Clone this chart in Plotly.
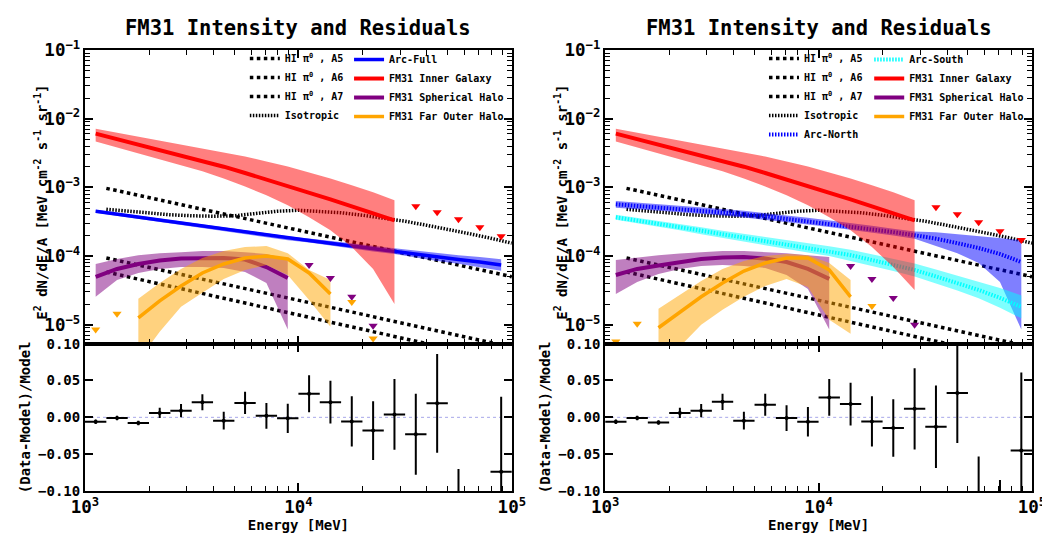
import plotly.graph_objects as go

FONT = "DejaVu Sans Mono"

# ---------------- data ----------------
# energy bin centres [MeV] (fitted components, upper limits, residuals)
energy_bins = [1122, 1413, 1778, 2239, 2818, 3548, 4467, 5623, 7079, 8913,
               11220, 14125, 17783, 22387, 28184, 35481, 44668, 56234, 70795, 89125]
# energy grid [MeV] for HI / isotropic templates
energy_tmpl = [1259, 1585, 1995, 2512, 3162, 3981, 5012, 6310, 7943, 10000,
               12589, 15849, 19953, 25119, 31623, 39811, 50119, 63096, 79433, 100000]

hi_a5 = [9.68e-4, 8.28e-4, 7.08e-4, 6.05e-4, 5.18e-4, 4.43e-4, 3.79e-4, 3.24e-4, 2.77e-4, 2.37e-4,
         2.03e-4, 1.73e-4, 1.48e-4, 1.27e-4, 1.08e-4, 9.3e-5, 7.9e-5, 6.8e-5, 5.8e-5, 5.0e-5]
hi_a6 = [9.35e-5, 8.0e-5, 6.83e-5, 5.83e-5, 4.98e-5, 4.26e-5, 3.64e-5, 3.11e-5, 2.66e-5, 2.27e-5,
         1.94e-5, 1.66e-5, 1.42e-5, 1.21e-5, 1.03e-5, 8.85e-6, 7.56e-6, 6.46e-6, 5.52e-6, 4.71e-6]
hi_a7 = [5.86e-5, 4.99e-5, 4.25e-5, 3.62e-5, 3.08e-5, 2.62e-5, 2.23e-5, 1.90e-5, 1.62e-5, 1.38e-5,
         1.17e-5, 1.0e-5, 8.5e-6, 7.2e-6, 6.2e-6, 5.3e-6, 4.5e-6, 3.8e-6, 3.2e-6, 2.8e-6]
isotropic = [4.80e-4, 4.49e-4, 4.20e-4, 3.99e-4, 3.86e-4, 3.80e-4, 3.86e-4, 4.20e-4, 4.49e-4, 4.64e-4,
             4.49e-4, 4.27e-4, 3.93e-4, 3.55e-4, 3.21e-4, 2.81e-4, 2.46e-4, 2.12e-4, 1.82e-4, 1.54e-4]

# ---- left panel (Arc-Full model) ----
arc_full = [4.49e-4, 4.06e-4, 3.67e-4, 3.32e-4, 3.01e-4, 2.72e-4, 2.46e-4, 2.23e-4, 2.01e-4, 1.82e-4,
            1.68e-4, 1.54e-4, 1.40e-4, 1.28e-4, 1.18e-4, 1.07e-4, 9.7e-5, 8.9e-5, 8.2e-5, 7.4e-5]
arc_full_hi = [4.72e-4, 4.27e-4, 3.86e-4, 3.49e-4, 3.16e-4, 2.86e-4, 2.59e-4, 2.34e-4, 2.15e-4, 1.95e-4,
               1.80e-4, 1.67e-4, 1.52e-4, 1.41e-4, 1.30e-4, 1.20e-4, 1.11e-4, 1.03e-4, 9.7e-5, 9.0e-5]
arc_full_lo = [4.27e-4, 3.86e-4, 3.49e-4, 3.16e-4, 2.86e-4, 2.59e-4, 2.34e-4, 2.12e-4, 1.88e-4, 1.70e-4,
               1.57e-4, 1.42e-4, 1.29e-4, 1.16e-4, 1.07e-4, 9.5e-5, 8.5e-5, 7.7e-5, 6.9e-5, 6.1e-5]

inner_L = [6.07e-3, 5.07e-3, 4.24e-3, 3.52e-3, 2.92e-3, 2.42e-3, 2.00e-3, 1.62e-3, 1.31e-3, 1.05e-3,
           8.4e-4, 6.7e-4, 5.3e-4, 4.2e-4, 3.3e-4]
inner_L_hi = [7.16e-3, 6.26e-3, 5.48e-3, 4.80e-3, 4.20e-3, 3.67e-3, 3.21e-3, 2.81e-3, 2.38e-3, 2.01e-3,
              1.65e-3, 1.35e-3, 1.07e-3, 8.47e-4, 6.48e-4]
inner_L_lo = [4.64e-3, 3.80e-3, 3.11e-3, 2.55e-3, 2.08e-3, 1.71e-3, 1.35e-3, 1.03e-3, 7.65e-4, 5.48e-4,
              3.67e-4, 2.38e-4, 1.35e-4, 6.49e-5, 2.01e-5]

sph_L = [4.96e-5, 6.49e-5, 7.66e-5, 8.61e-5, 9.2e-5, 9.35e-5, 9.35e-5, 8.9e-5, 6.93e-5, 4.8e-5]
sph_L_hi = [7.66e-5, 9.06e-5, 1.03e-4, 1.10e-4, 1.14e-4, 1.18e-4, 1.18e-4, 1.14e-4, 1.07e-4, 9.06e-5]
sph_L_lo = [2.55e-5, 4.49e-5, 5.67e-5, 6.49e-5, 6.93e-5, 6.93e-5, 6.7e-5, 5.86e-5, 4.06e-5, 8.5e-6]

far_L = [1.26e-5, 2.23e-5, 3.67e-5, 5.67e-5, 7.66e-5, 9.35e-5, 1.0e-4, 9.06e-5, 5.67e-5, 2.81e-5]
far_L_hi = [2.38e-5, 4.06e-5, 6.49e-5, 9.35e-5, 1.18e-4, 1.35e-4, 1.40e-4, 1.10e-4, 6.27e-5, 4.49e-5]
far_L_lo = [3.0e-6, 7.9e-6, 1.82e-5, 2.91e-5, 4.65e-5, 6.27e-5, 7.41e-5, 5.3e-5, 2.30e-5, 9.35e-6]

ul_inner_L = [5.3e-4, 4.34e-4, 3.44e-4, 2.63e-4, 1.95e-4]        # bins 15-19
ul_sph_L = [7.4e-5, 4.8e-5, 2.55e-5, 9.7e-6]                       # bins 10-13
ul_far_L_bins = [0, 1, 12, 13]
ul_far_L = [8.5e-6, 1.44e-5, 2.15e-5, 6.3e-6]

res_L = [-0.006, -0.001, -0.0077, 0.006, 0.009, 0.0205, -0.0045, 0.0196, 0.002, -0.0014,
         0.032, 0.0205, -0.0055, -0.018, 0.004, -0.023, 0.019, -0.14, -0.22, -0.074]
res_L_err = [0.003, 0.003, 0.003, 0.007, 0.009, 0.011, 0.012, 0.015, 0.0175, 0.02,
             0.025, 0.029, 0.034, 0.04, 0.048, 0.055, 0.067, 0.07, 0.06, 0.102]

# ---- right panel (Arc-North + Arc-South model) ----
arc_north = [5.67e-4, 5.39e-4, 5.13e-4, 4.88e-4, 4.64e-4, 4.34e-4, 4.06e-4, 3.80e-4, 3.49e-4, 3.21e-4,
             2.96e-4, 2.72e-4, 2.46e-4, 2.23e-4, 2.01e-4, 1.79e-4, 1.54e-4, 1.31e-4, 1.07e-4, 8.18e-5]
arc_north_hi = [6.35e-4, 6.04e-4, 5.75e-4, 5.47e-4, 5.2e-4, 4.86e-4, 4.55e-4, 4.26e-4, 3.91e-4, 3.6e-4,
                3.32e-4, 3.05e-4, 2.76e-4, 2.5e-4, 2.27e-4, 2.23e-4, 2.08e-4, 1.95e-4, 1.82e-4, 1.71e-4]
arc_north_lo = [5.06e-4, 4.81e-4, 4.58e-4, 4.36e-4, 4.14e-4, 3.88e-4, 3.63e-4, 3.39e-4, 3.12e-4, 2.87e-4,
                2.64e-4, 2.43e-4, 2.2e-4, 1.99e-4, 1.78e-4, 1.40e-4, 1.10e-4, 7.9e-5, 4.2e-5, 8.5e-6]

arc_south = [3.67e-4, 3.32e-4, 2.96e-4, 2.63e-4, 2.34e-4, 2.08e-4, 1.85e-4, 1.65e-4, 1.47e-4, 1.33e-4,
             1.18e-4, 1.03e-4, 8.75e-5, 7.41e-5, 6.27e-5, 5.05e-5, 4.06e-5, 3.21e-5, 2.46e-5, 1.82e-5]
arc_south_hi = [3.99e-4, 3.61e-4, 3.27e-4, 2.91e-4, 2.63e-4, 2.34e-4, 2.11e-4, 1.92e-4, 1.71e-4, 1.57e-4,
                1.39e-4, 1.24e-4, 1.07e-4, 9.06e-5, 7.79e-5, 6.38e-5, 5.22e-5, 4.26e-5, 3.43e-5, 2.67e-5]
arc_south_lo = [3.38e-4, 3.05e-4, 2.68e-4, 2.38e-4, 2.08e-4, 1.85e-4, 1.62e-4, 1.42e-4, 1.27e-4, 1.125e-4,
                9.98e-5, 8.57e-5, 7.16e-5, 6.06e-5, 5.04e-5, 4.0e-5, 3.16e-5, 2.42e-5, 1.76e-5, 1.24e-5]

inner_R = inner_L
inner_R_hi = inner_L_hi
inner_R_lo = [4.64e-3, 3.80e-3, 3.11e-3, 2.55e-3, 2.08e-3, 1.71e-3, 1.35e-3, 1.03e-3, 7.65e-4, 5.48e-4,
              3.67e-4, 2.38e-4, 1.35e-4, 6.93e-5, 3.21e-5]

sph_R = [5.3e-5, 6.49e-5, 7.28e-5, 8.18e-5, 9.06e-5, 9.5e-5, 9.7e-5, 9.2e-5, 8.18e-5, 6.49e-5, 4.65e-5]
sph_R_hi = [8.75e-5, 9.5e-5, 1.03e-4, 1.09e-4, 1.14e-4, 1.18e-4, 1.18e-4, 1.14e-4, 1.10e-4, 1.03e-4, 9.7e-5]
sph_R_lo = [2.81e-5, 4.2e-5, 5.48e-5, 6.49e-5, 7.17e-5, 7.41e-5, 7.17e-5, 6.7e-5, 5.3e-5, 3.32e-5, 8.5e-6]

far_R = [9.05e-6, 1.54e-5, 2.55e-5, 4.06e-5, 6.06e-5, 7.92e-5, 9.35e-5, 9.35e-5, 6.27e-5, 2.55e-5]
far_R_hi = [1.71e-5, 2.72e-5, 4.34e-5, 6.49e-5, 8.47e-5, 1.0e-4, 1.07e-4, 1.03e-4, 7.92e-5, 4.49e-5]
far_R_lo = [2.5e-6, 4.8e-6, 1.0e-5, 1.65e-5, 2.55e-5, 3.67e-5, 4.65e-5, 3.55e-5, 1.18e-5, 7.4e-6]

ul_inner_R = [5.13e-4, 4.06e-4, 3.11e-4, 2.3e-4, 1.71e-4]        # bins 15-19
ul_sph_R = [7.17e-5, 4.65e-5, 2.46e-5, 1.0e-5]                    # bins 11-14
ul_far_R_bins = [0, 1, 12]
ul_far_R = [5.7e-6, 1.03e-5, 1.88e-5]

res_R = [-0.006, -0.001, -0.007, 0.006, 0.009, 0.021, -0.0045, 0.017, -0.001, -0.006,
         0.027, 0.018, -0.0055, -0.0145, 0.0115, -0.0127, 0.033, -0.12, -0.15, -0.045]
res_R_err = [0.003, 0.003, 0.003, 0.007, 0.009, 0.011, 0.012, 0.015, 0.0175, 0.02,
             0.025, 0.029, 0.034, 0.039, 0.055, 0.056, 0.068, 0.067, 0.065, 0.106]

# ---------------- styles ----------------
RED, BLUE, PURPLE, ORANGE, CYAN = "#ff0000", "#0000ff", "#800080", "#ffa500", "#00ffff"
def rgba(h, a):
    h = h.lstrip("#")
    return "rgba(%d,%d,%d,%s)" % (int(h[0:2], 16), int(h[2:4], 16), int(h[4:6], 16), a)

HI_DASH = "3.5px,3.5px"
ISO_DASH = "1.5px,1.5px"
ARC_DASH = "1.5px,1.5px"

fig = go.Figure()

def band(x, lo, hi, color, xa, ya):
    fig.add_trace(go.Scatter(x=list(x) + list(x)[::-1], y=list(hi) + list(lo)[::-1],
                             fill="toself", fillcolor=rgba(color, 0.5), mode="lines",
                             line=dict(width=0), hoverinfo="skip", showlegend=False,
                             xaxis=xa, yaxis=ya))

def line(x, y, name, color, width, dash, xa, ya, legend):
    fig.add_trace(go.Scatter(x=x, y=y, name=name, mode="lines",
                             line=dict(color=color, width=width, dash=dash),
                             xaxis=xa, yaxis=ya, legend=legend))

def limits(x, y, color, xa, ya):
    fig.add_trace(go.Scatter(x=x, y=y, mode="markers", showlegend=False,
                             marker=dict(symbol="triangle-down", size=8, color=color),
                             xaxis=xa, yaxis=ya))

def residuals(res, err, xa, ya):
    ex_p = [e * (10 ** 0.05 - 1) for e in energy_bins]
    ex_m = [e * (1 - 10 ** -0.05) for e in energy_bins]
    fig.add_trace(go.Scatter(x=energy_bins, y=res, mode="markers", showlegend=False,
                             marker=dict(color="black", size=4),
                             error_y=dict(type="data", array=err, color="black", thickness=2, width=0),
                             error_x=dict(type="data", array=ex_p, arrayminus=ex_m, symmetric=False,
                                          color="black", thickness=2, width=0),
                             xaxis=xa, yaxis=ya))

HI_NAMES = ["HI π<sup>0</sup> , A5", "HI π<sup>0</sup> , A6", "HI π<sup>0</sup> , A7"]

# ----- left panel -----
for vals, nm in zip([hi_a5, hi_a6, hi_a7], HI_NAMES):
    line(energy_tmpl, vals, nm, "black", 3.5, HI_DASH, "x", "y", "legend")
line(energy_tmpl, isotropic, "Isotropic", "black", 3.5, ISO_DASH, "x", "y", "legend")
band(energy_bins, arc_full_lo, arc_full_hi, BLUE, "x", "y")
line(energy_bins, arc_full, "Arc-Full", BLUE, 3.5, "solid", "x", "y", "legend2")
band(energy_bins[:15], inner_L_lo, inner_L_hi, RED, "x", "y")
line(energy_bins[:15], inner_L, "FM31 Inner Galaxy", RED, 4, "solid", "x", "y", "legend2")
band(energy_bins[:10], sph_L_lo, sph_L_hi, PURPLE, "x", "y")
line(energy_bins[:10], sph_L, "FM31 Spherical Halo", PURPLE, 4, "solid", "x", "y", "legend2")
band(energy_bins[2:12], far_L_lo, far_L_hi, ORANGE, "x", "y")
line(energy_bins[2:12], far_L, "FM31 Far Outer Halo", ORANGE, 3.5, "solid", "x", "y", "legend2")
limits(energy_bins[15:20], ul_inner_L, RED, "x", "y")
limits(energy_bins[10:14], ul_sph_L, PURPLE, "x", "y")
limits([energy_bins[i] for i in ul_far_L_bins], ul_far_L, ORANGE, "x", "y")
residuals(res_L, res_L_err, "x2", "y2")

# ----- right panel -----
for vals, nm in zip([hi_a5, hi_a6, hi_a7], HI_NAMES):
    line(energy_tmpl, vals, nm, "black", 3.5, HI_DASH, "x3", "y3", "legend3")
line(energy_tmpl, isotropic, "Isotropic", "black", 3.5, ISO_DASH, "x3", "y3", "legend3")
band(energy_bins, arc_north_lo, arc_north_hi, BLUE, "x3", "y3")
line(energy_bins, arc_north, "Arc-North", BLUE, 4, ARC_DASH, "x3", "y3", "legend3")
band(energy_bins, arc_south_lo, arc_south_hi, CYAN, "x3", "y3")
line(energy_bins, arc_south, "Arc-South", CYAN, 4, ARC_DASH, "x3", "y3", "legend4")
band(energy_bins[:15], inner_R_lo, inner_R_hi, RED, "x3", "y3")
line(energy_bins[:15], inner_R, "FM31 Inner Galaxy", RED, 4, "solid", "x3", "y3", "legend4")
band(energy_bins[:11], sph_R_lo, sph_R_hi, PURPLE, "x3", "y3")
line(energy_bins[:11], sph_R, "FM31 Spherical Halo", PURPLE, 4, "solid", "x3", "y3", "legend4")
band(energy_bins[2:12], far_R_lo, far_R_hi, ORANGE, "x3", "y3")
line(energy_bins[2:12], far_R, "FM31 Far Outer Halo", ORANGE, 3.5, "solid", "x3", "y3", "legend4")
limits(energy_bins[15:20], ul_inner_R, RED, "x3", "y3")
limits(energy_bins[11:15], ul_sph_R, PURPLE, "x3", "y3")
limits([energy_bins[i] for i in ul_far_R_bins], ul_far_R, ORANGE, "x3", "y3")
residuals(res_R, res_R_err, "x4", "y4")

# ---------------- layout ----------------
W, H = 1050, 535
ML, MR, MT, MB = 77, 19, 42, 50
pw = W - ML - MR
ph = H - MT - MB
colL = [0, 430 / pw]
colR = [1 - 430 / pw, 1]
split = 148 / ph

bold = dict(family=FONT, size=14, color="black", weight="bold")
minor_log = dict(ticks="inside", ticklen=5, tickwidth=1.2, tickcolor="black",
                 dtick="D1", showgrid=False)

axis_common = dict(showline=True, linecolor="black", linewidth=2, mirror="allticks",
                   ticks="inside", ticklen=8, tickwidth=1.5, tickcolor="black",
                   showgrid=False, zeroline=False, tickfont=bold)

def xlog(domain, anchor, labels):
    d = dict(axis_common, type="log", range=[3, 5], domain=domain, anchor=anchor,
             tickmode="linear", tick0=0, dtick=1, exponentformat="power", showexponent="all",
             showticklabels=labels, minor=minor_log)
    if labels:
        d["title"] = dict(text="Energy [MeV]", standoff=4, font=bold)
    return d

def ytop(domain, anchor):
    return dict(axis_common, type="log", range=[-5.2757, -1], domain=domain, anchor=anchor,
                tickmode="linear", tick0=0, dtick=1, exponentformat="power", showexponent="all",
                minor=minor_log)

def ybot(domain, anchor):
    return dict(axis_common, range=[-0.1, 0.1], domain=domain, anchor=anchor,
                tickmode="array", tickvals=[-0.1, -0.05, 0, 0.05, 0.1], tickformat=".2f",
                title=dict(text="(Data-Model)/Model", standoff=4, font=bold))

legend_common = dict(bgcolor="rgba(0,0,0,0)", borderwidth=0, xanchor="left", yanchor="top",
                     font=dict(family=FONT, size=10, color="black", weight="bold"),
                     tracegroupgap=0, itemwidth=30, traceorder="normal")

title_font = dict(family=FONT, size=20.5, color="black", weight="bold")
YTITLE = "E<sup>2</sup> dN/dE/A [MeV cm<sup>-2</sup> s<sup>-1</sup> sr<sup>-1</sup>]"
ytitle_y = 1 - (195 - MT) / ph

fig.update_layout(
    width=W, height=H, margin=dict(l=ML, r=MR, t=MT, b=MB),
    paper_bgcolor="white", plot_bgcolor="white",
    font=dict(family=FONT, size=14, color="black", weight="bold"),
    xaxis=xlog(colL, "y", False), yaxis=ytop([split, 1], "x"),
    xaxis2=xlog(colL, "y2", True), yaxis2=ybot([0, split], "x2"),
    xaxis3=xlog(colR, "y3", False), yaxis3=ytop([split, 1], "x3"),
    xaxis4=xlog(colR, "y4", True), yaxis4=ybot([0, split], "x4"),
    legend=dict(legend_common, x=(238 - ML) / pw, y=1 - (36 - MT) / ph),
    legend2=dict(legend_common, x=(343 - ML) / pw, y=1 - (37 - MT) / ph),
    legend3=dict(legend_common, x=(761 - ML) / pw, y=1 - (36 - MT) / ph),
    legend4=dict(legend_common, x=(867 - ML) / pw, y=1 - (37 - MT) / ph),
    showlegend=True,
    annotations=[
        dict(text="FM31 Intensity and Residuals", xref="paper", yref="paper",
             x=(colL[0] + colL[1]) / 2, y=1 + 22 / ph, xanchor="center", yanchor="middle",
             showarrow=False, font=title_font),
        dict(text="FM31 Intensity and Residuals", xref="paper", yref="paper",
             x=(colR[0] + colR[1]) / 2, y=1 + 22 / ph, xanchor="center", yanchor="middle",
             showarrow=False, font=title_font),
        dict(text=YTITLE, xref="paper", yref="paper", x=(33 - ML) / pw, y=ytitle_y,
             xanchor="center", yanchor="middle", textangle=-90, showarrow=False, font=bold),
        dict(text=YTITLE, xref="paper", yref="paper", x=(557 - ML) / pw, y=ytitle_y,
             xanchor="center", yanchor="middle", textangle=-90, showarrow=False, font=bold),
    ],
    shapes=[
        dict(type="line", xref="x2 domain", yref="y2", x0=0, x1=1, y0=0, y1=0,
             line=dict(color="rgba(110,110,220,0.6)", width=1, dash="dot"), layer="below"),
        dict(type="line", xref="x4 domain", yref="y4", x0=0, x1=1, y0=0, y1=0,
             line=dict(color="rgba(110,110,220,0.6)", width=1, dash="dot"), layer="below"),
    ],
)

fig.write_html("out.html")
